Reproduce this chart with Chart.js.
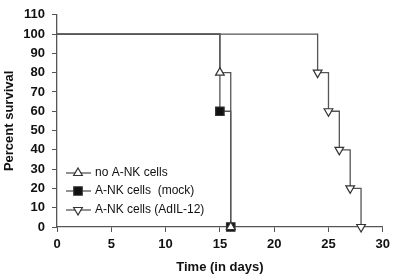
<!DOCTYPE html>
<html>
<head>
<meta charset="utf-8">
<script src="https://cdn.jsdelivr.net/npm/chart.js@4/dist/chart.umd.min.js"></script>
<style>
  html, body { margin: 0; padding: 0; background: #fff; }
  #wrap { width: 395px; height: 280px; }
</style>
</head>
<body>
<div id="wrap"><canvas id="survivalChart"></canvas></div>
<script>
// Datos (días, % supervivencia)
const seriesNames = ['no A-NK cells', 'A-NK cells  (mock)', 'A-NK cells (AdIL-12)'];
const noAnkDays = [0, 15, 16];
const noAnkSurvival = [100, 80, 0];
const mockDays = [0, 15, 16];
const mockSurvival = [100, 60, 0];
const il12Days = [0, 24, 25, 26, 27, 28];
const il12Survival = [100, 80, 60, 40, 20, 0];
const xTicks = [0, 5, 10, 15, 20, 25, 30];
const yTicks = [0, 10, 20, 30, 40, 50, 60, 70, 80, 90, 100, 110];

const lineColor = '#555';
const markColor = '#333';

function toPoints(xs, ys) {
    return xs.map((x, i) => ({ x: x, y: ys[i] }));
}

const styles = [
    { pointStyle: 'triangle', rotation: 0, fill: '#fff', radius: 5 },
    { pointStyle: 'rect', rotation: 0, fill: '#111', radius: 6 },
    { pointStyle: 'triangle', rotation: 180, fill: '#fff', radius: 5 }
];

const allSeries = [
    toPoints(noAnkDays, noAnkSurvival),
    toPoints(mockDays, mockSurvival),
    toPoints(il12Days, il12Survival)
];

// Leyenda dibujada dentro del área del gráfico
const insideLegend = {
    id: 'insideLegend',
    afterDraw(chart) {
        const ctx = chart.ctx;
        const rows = [173, 191, 210];
        ctx.save();
        seriesNames.forEach((name, i) => {
            const y = rows[i];
            ctx.strokeStyle = lineColor;
            ctx.lineWidth = 1.3;
            ctx.beginPath();
            ctx.moveTo(66, y);
            ctx.lineTo(91, y);
            ctx.stroke();
            ctx.fillStyle = styles[i].fill;
            ctx.strokeStyle = markColor;
            ctx.lineWidth = 1.2;
            Chart.helpers.drawPoint(ctx, {
                pointStyle: styles[i].pointStyle,
                rotation: styles[i].rotation,
                radius: styles[i].radius,
                borderWidth: 1.2
            }, 78, y);
            ctx.fillStyle = '#111';
            ctx.font = '12px "Liberation Sans", Arial, sans-serif';
            ctx.textBaseline = 'middle';
            ctx.textAlign = 'left';
            ctx.fillText(name, 95, y);
        });
        ctx.restore();
    }
};

const ctx = document.getElementById('survivalChart').getContext('2d');
new Chart(ctx, {
    type: 'scatter',
    data: {
        datasets: allSeries.map((pts, i) => ({
            label: seriesNames[i],
            data: pts,
            showLine: true,
            stepped: true,
            borderColor: lineColor,
            borderWidth: 1.3,
            pointStyle: styles[i].pointStyle,
            rotation: styles[i].rotation,
            pointBackgroundColor: styles[i].fill,
            pointBorderColor: markColor,
            pointBorderWidth: 1.2,
            pointRadius: c => c.dataIndex === 0 ? 0 : styles[i].radius,
            pointHoverRadius: c => c.dataIndex === 0 ? 0 : styles[i].radius,
            clip: false
        }))
    },
    options: {
        responsive: true,
        maintainAspectRatio: false,
        animation: false,
        layout: { padding: { top: 7, right: 6, left: 0, bottom: 0 } },
        plugins: {
            legend: { display: false },
            tooltip: { enabled: false }
        },
        scales: {
            x: {
                type: 'linear',
                min: 0,
                max: 30,
                afterFit: s => { s.height = 53; },
                afterBuildTicks: s => { s.ticks = xTicks.map(v => ({ value: v })); },
                grid: { display: true, drawOnChartArea: false, tickLength: 5, color: lineColor },
                border: { color: lineColor, width: 1.3 },
                ticks: {
                    color: '#111',
                    padding: 5,
                    maxRotation: 0,
                    font: { family: '"Liberation Sans", Arial, sans-serif', size: 13, weight: 'bold' }
                },
                title: {
                    display: true,
                    text: 'Time (in days)',
                    color: '#111',
                    padding: { top: 2, bottom: 5 },
                    font: { family: '"Liberation Sans", Arial, sans-serif', size: 13, weight: 'bold' }
                }
            },
            y: {
                type: 'linear',
                min: 0,
                max: 110,
                afterFit: s => { s.width = 57; },
                afterBuildTicks: s => { s.ticks = yTicks.map(v => ({ value: v })); },
                grid: { display: true, drawOnChartArea: false, tickLength: 5, color: lineColor },
                border: { color: lineColor, width: 1.3 },
                ticks: {
                    color: '#111',
                    padding: 7,
                    font: { family: '"Liberation Sans", Arial, sans-serif', size: 13, weight: 'bold' }
                },
                title: {
                    display: true,
                    text: 'Percent survival',
                    color: '#111',
                    padding: { top: 2, bottom: 2 },
                    font: { family: '"Liberation Sans", Arial, sans-serif', size: 13, weight: 'bold' }
                }
            }
        }
    },
    plugins: [insideLegend]
});
</script>
</body>
</html>
